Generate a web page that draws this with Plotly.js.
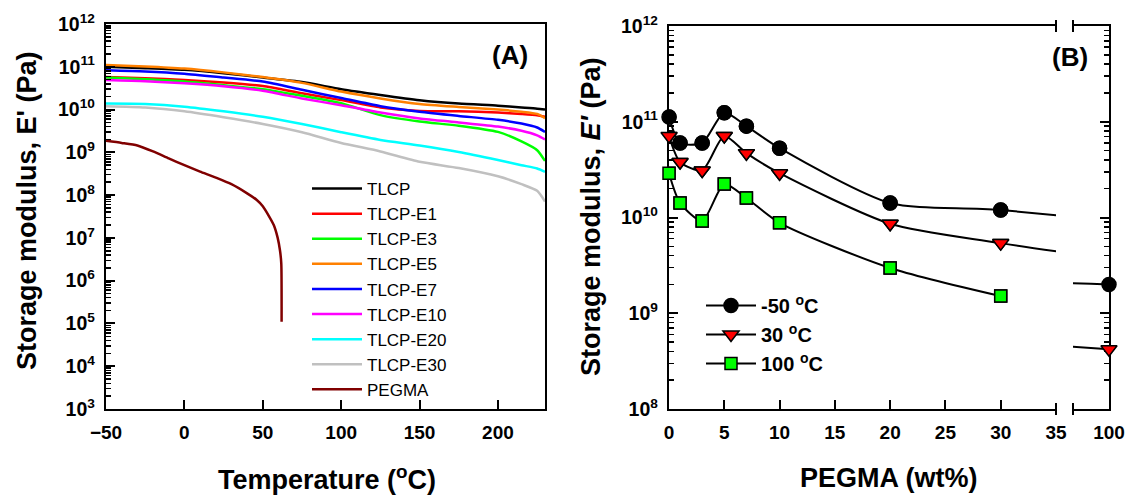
<!DOCTYPE html>
<html><head><meta charset="utf-8">
<script src="https://cdn.plot.ly/plotly-3.0.1.min.js"></script>
<style>
html,body{margin:0;padding:0;background:#fff}
#wrap{position:relative;width:1126px;height:495px}
.layer{position:absolute;left:0;top:0;width:1126px;height:495px}
</style>
</head><body>
<div id="wrap">
  <div id="chartA" class="layer"></div>
  <div id="chartB1" class="layer"></div>
  <div id="chartB2" class="layer"></div>
  <div id="markB1" class="layer"></div>
  <div id="markB2" class="layer"></div>
</div>
<script>
// ---------- Panel A data: storage modulus vs temperature ----------
const T_A = [-50, -25, 0, 25, 50, 75, 100, 125, 150, 175, 200, 215, 225, 230];
const E_TLCP     = [1.0e11, 9.3e10, 8.5e10, 7.1e10, 5.6e10, 4.4e10, 3.0e10, 2.2e10, 1.66e10, 1.38e10, 1.23e10, 1.12e10, 1.05e10, 1.0e10];
const E_TLCP_E1  = [5.75e10, 5.4e10, 4.9e10, 4.3e10, 3.55e10, 2.4e10, 1.66e10, 1.12e10, 9.3e9, 9.1e9, 8.5e9, 7.9e9, 7.4e9, 6.8e9];
const E_TLCP_E3  = [5.6e10, 5.1e10, 4.5e10, 3.7e10, 3.0e10, 2.1e10, 1.41e10, 7.4e9, 5.25e9, 4.2e9, 3.0e9, 1.8e9, 1.12e9, 6.3e8];
const E_TLCP_E5  = [1.1e11, 1.02e11, 9.1e10, 7.4e10, 5.75e10, 4.2e10, 2.63e10, 1.82e10, 1.35e10, 1.15e10, 1.0e10, 8.9e9, 7.9e9, 6.3e9];
const E_TLCP_E7  = [8.3e10, 7.8e10, 6.9e10, 5.6e10, 4.5e10, 2.9e10, 1.86e10, 1.2e10, 8.9e9, 7.1e9, 5.75e9, 4.7e9, 3.8e9, 3.0e9];
const E_TLCP_E10 = [4.9e10, 4.6e10, 4.1e10, 3.5e10, 2.75e10, 1.82e10, 1.26e10, 8.5e9, 6.2e9, 5.0e9, 4.0e9, 3.2e9, 2.5e9, 2.0e9];
const E_TLCP_E20 = [1.38e10, 1.35e10, 1.17e10, 9.1e9, 6.8e9, 4.6e9, 2.95e9, 1.95e9, 1.45e9, 1.02e9, 6.6e8, 5.0e8, 4.2e8, 3.5e8];
const E_TLCP_E30 = [1.2e10, 1.12e10, 9.1e9, 6.6e9, 4.6e9, 2.95e9, 1.66e9, 1.05e9, 6.0e8, 4.3e8, 2.75e8, 1.8e8, 1.26e8, 7.1e7];
const T_PEGMA = [-50, -40, -30, -20, -10, 0, 10, 20, 30, 40, 46, 50, 54, 57, 59.5, 61, 61.8, 62];
const E_PEGMA = [1.86e9, 1.66e9, 1.45e9, 1.05e9, 7.2e8, 5.0e8, 3.55e8, 2.57e8, 1.8e8, 1.1e8, 7.8e7, 5.5e7, 3.2e7, 2.0e7, 1.0e7, 5.0e6, 2.5e6, 1.1e5];

const namesA = ['TLCP', 'TLCP-E1', 'TLCP-E3', 'TLCP-E5', 'TLCP-E7', 'TLCP-E10', 'TLCP-E20', 'TLCP-E30', 'PEGMA'];
const colorsA = ['#000000', '#ff0000', '#00ff00', '#ff8000', '#0000ff', '#ff00ff', '#00ffff', '#c0c0c0', '#800000'];
const seriesA = [E_TLCP, E_TLCP_E1, E_TLCP_E3, E_TLCP_E5, E_TLCP_E7, E_TLCP_E10, E_TLCP_E20, E_TLCP_E30, E_PEGMA];

// ---------- Panel B data: storage modulus vs PEGMA content ----------
const WT = [0, 1, 3, 5, 7, 10, 20, 30, 100];
const E_m50C = [1.12e11, 6.0e10, 6.0e10, 1.24e11, 9.0e10, 5.3e10, 1.42e10, 1.2e10, 2.0e9];
const E_30C  = [7.1e10, 3.8e10, 3.1e10, 7.1e10, 4.7e10, 2.9e10, 8.6e9, 5.4e9, 4.2e8];
const WT_100C = [0, 1, 3, 5, 7, 10, 20, 30];
const E_100C = [2.9e10, 1.42e10, 9.2e9, 2.24e10, 1.6e10, 8.8e9, 2.97e9, 1.51e9];
const namesB = ['-50 <sup>o</sup>C', '30 <sup>o</sup>C', '100 <sup>o</sup>C'];

// ---------- geometry (pixel frame helpers) ----------
const FONT = 'Arial, "Liberation Sans", sans-serif';
const W = 1126, H = 495;
const MF = {l: 106, r: 17, t: 24, b: 86};
const fx = p => (p - MF.l) / (W - MF.l - MF.r);
const fy = p => (H - MF.b - p) / (H - MF.t - MF.b);
const OF = {l: 106, r: 0, t: 4, b: 60};
const ox = p => (p - OF.l) / (W - OF.l - OF.r);
const oy = p => (H - OF.b - p) / (H - OF.t - OF.b);

const tickFont = {family: FONT, size: 19, color: '#000', weight: 'bold'};
const logTickFont = {family: FONT, size: 15.6, color: '#000', weight: 'bold'};
const titleFont = {family: FONT, size: 27, color: '#000', weight: 'bold'};
const minorLog = {ticks: 'inside', ticklen: 5, tickwidth: 1.5, tickcolor: '#000', dtick: 'D1'};
const baseAx = {showgrid: false, zeroline: false, showline: true, linecolor: '#000', linewidth: 2,
  ticks: 'inside', ticklen: 9, tickwidth: 2, tickcolor: '#000'};
const cfg = {displayModeBar: false, staticPlot: true};
const clear = 'rgba(0,0,0,0)';
const ann = (text, x, y, extra) => Object.assign({text: text, xref: 'paper', yref: 'paper', x: x, y: y,
  showarrow: false, xanchor: 'center', yanchor: 'middle', font: titleFont}, extra || {});

// ---------- Panel A ----------
const tracesA = seriesA.map((ys, i) => ({
  x: i === 8 ? T_PEGMA : T_A, y: ys, name: namesA[i], type: 'scatter', mode: 'lines',
  line: {color: colorsA[i], width: 2.5, shape: 'spline', smoothing: 0.6}
}));
const layoutA = {
  width: W, height: H, margin: MF, paper_bgcolor: '#fff', plot_bgcolor: '#fff',
  font: {family: FONT, color: '#000'}, showlegend: true,
  xaxis: Object.assign({}, baseAx, {domain: [0, fx(545)], range: [-50, 230], tick0: 0, dtick: 50,
    mirror: true, tickfont: tickFont, ticklabelstandoff: 5}),
  yaxis: Object.assign({}, baseAx, {domain: [0, 1], type: 'log', range: [3, 12], dtick: 1,
    exponentformat: 'power', mirror: true, tickfont: logTickFont, minor: minorLog, ticklabelstandoff: 6}),
  legend: {x: fx(307), y: fy(171), xanchor: 'left', yanchor: 'top', bgcolor: clear, borderwidth: 0,
    font: {family: FONT, size: 17, color: '#000'}, itemwidth: 50, tracegroupgap: 0},
  annotations: [
    ann('(A)', fx(510), fy(55), {font: {family: FONT, size: 26, color: '#000', weight: 'bold'}}),
    ann('Temperature (<sup>o</sup>C)', fx(327), fy(478)),
    ann("Storage modulus, E' (Pa)", fx(27), fy(211), {textangle: -90})
  ]
};
Plotly.newPlot('chartA', tracesA, layoutA, cfg);

// ---------- Panel B, left segment (0-35 wt%) ----------
const seriesB = [
  {x: WT, y: E_m50C, sym: 'circle', col: '#000000', size: 14},
  {x: WT, y: E_30C, sym: 'triangle-down', col: '#ff0000', size: 14},
  {x: WT_100C, y: E_100C, sym: 'square', col: '#00ff00', size: 12}
];
const mk = s => ({symbol: s.sym, color: s.col, size: s.size, line: {color: '#000000', width: 1.5}});
const lineB = {color: '#000000', width: 2, shape: 'spline', smoothing: 0.7};

const tracesB1 = seriesB.map((s, i) => ({
  x: s.x, y: s.y, name: namesB[i], type: 'scatter', mode: 'lines+markers', line: lineB, marker: mk(s)
}));
const layoutB1 = {
  width: W, height: H, margin: MF, paper_bgcolor: clear, plot_bgcolor: clear,
  font: {family: FONT, color: '#000'}, showlegend: true,
  xaxis: Object.assign({}, baseAx, {domain: [fx(669), fx(1056)], range: [0, 35], tick0: 0, dtick: 5,
    mirror: true, tickfont: tickFont, ticklabelstandoff: 5}),
  yaxis: Object.assign({}, baseAx, {domain: [0, fy(26)], type: 'log', range: [8, 12], dtick: 1,
    exponentformat: 'power', tickfont: logTickFont, minor: minorLog, ticklabelstandoff: 6}),
  legend: {x: fx(701), y: fy(286), xanchor: 'left', yanchor: 'top', bgcolor: clear, borderwidth: 0,
    font: {family: FONT, size: 20, color: '#000', weight: 'bold'}, itemwidth: 50, tracegroupgap: 0},
  annotations: [
    ann('(B)', fx(1070), fy(57), {font: {family: FONT, size: 26, color: '#000', weight: 'bold'}}),
    ann('PEGMA (wt%)', fx(889), fy(478)),
    ann("Storage modulus, <i>E'</i> (Pa)", fx(591), fy(217), {textangle: -90})
  ],
  shapes: [1056, 1073].flatMap(p => [
    {type: 'line', xref: 'paper', yref: 'paper', x0: fx(p), x1: fx(p), y0: fy(20), y1: fy(32), line: {color: '#000', width: 2}},
    {type: 'line', xref: 'paper', yref: 'paper', x0: fx(p), x1: fx(p), y0: fy(403), y1: fy(415), line: {color: '#000', width: 2}}
  ])
};
Plotly.newPlot('chartB1', tracesB1, layoutB1, cfg);

// ---------- Panel B, right segment (100 wt%) ----------
const tracesB2 = seriesB.map(s => ({
  x: s.x, y: s.y, type: 'scatter', mode: 'lines', line: lineB, showlegend: false
}));
const layoutB2 = {
  width: W, height: H, margin: MF, paper_bgcolor: clear, plot_bgcolor: clear,
  font: {family: FONT, color: '#000'}, showlegend: false,
  xaxis: Object.assign({}, baseAx, {domain: [fx(1073), 1], range: [96.7, 100], tickvals: [100],
    mirror: true, tickfont: tickFont, ticklabelstandoff: 5}),
  yaxis: Object.assign({}, baseAx, {domain: [0, fy(26)], side: 'right', type: 'log', range: [8, 12],
    dtick: 1, showticklabels: false, minor: minorLog})
};
Plotly.newPlot('chartB2', tracesB2, layoutB2, cfg);

// ---------- marker layers (same scales, wider clip so edge markers show whole) ----------
const PXU1 = (1056 - 669) / 35, PXU2 = (1109 - 1073) / 3.3, PXD = (409 - 26) / 4;
const yMark = {visible: false, type: 'log', range: [7.8, 12.2], domain: [oy(409 + 0.2 * PXD), oy(26 - 0.2 * PXD)]};
function markTraces(keep) {
  return seriesB.map(s => {
    const xs = [], ys = [];
    s.x.forEach((v, k) => { if (keep(v)) { xs.push(v); ys.push(s.y[k]); } });
    return {x: xs, y: ys, type: 'scatter', mode: 'markers', marker: mk(s), showlegend: false};
  });
}
const layoutM1 = {
  width: W, height: H, margin: OF, paper_bgcolor: clear, plot_bgcolor: clear, showlegend: false,
  xaxis: {visible: false, range: [-1.5, 36.5], domain: [ox(669 - 1.5 * PXU1), ox(1056 + 1.5 * PXU1)]},
  yaxis: yMark
};
Plotly.newPlot('markB1', markTraces(v => v <= 35), layoutM1, cfg);
const layoutM2 = {
  width: W, height: H, margin: OF, paper_bgcolor: clear, plot_bgcolor: clear, showlegend: false,
  xaxis: {visible: false, range: [95.2, 101.5], domain: [ox(1073 - 1.5 * PXU2), ox(1109 + 1.5 * PXU2)]},
  yaxis: yMark
};
Plotly.newPlot('markB2', markTraces(v => v > 35), layoutM2, cfg);
</script></body></html>
